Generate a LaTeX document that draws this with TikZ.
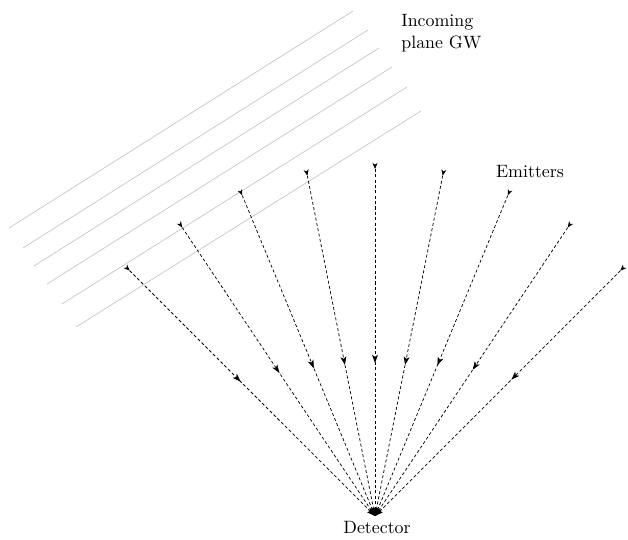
\documentclass[tikz,border=0pt]{standalone}
\usetikzlibrary{decorations.markings,arrows.meta,calc}
\tikzset{
  midtip/.tip={Stealth[length=4.6pt,width=3.3pt,inset=1.2pt]},
  endtip/.tip={Stealth[length=3.4pt,width=2.8pt,inset=1pt]}}
\begin{document}
\begin{tikzpicture}[x=0.56pt,y=0.56pt,
  wave/.style={black!22, line width=0.4pt},
  ray/.style={dash pattern=on 1.7pt off 1.3pt, line width=0.4pt},
  lbl/.style={inner sep=0pt, font=\normalsize}]
\useasboundingbox (0,0) rectangle (628,539);
% incoming plane wave fronts
\draw[wave] (9,311) -- (353,528);
\draw[wave] (23,291) -- (368,509);
\draw[wave] (34,273) -- (379,491);
\draw[wave] (47,255) -- (392,472);
\draw[wave] (62,235) -- (407,452);
\draw[wave] (76,212) -- (421,428);
% detector
\coordinate (D) at (375,23);
\node[lbl] (det) at (377,12) {Detector};
% rays
\foreach \i/\a/\p in {1/135/0.452, 2/123.75/0.504, 3/112.5/0.539, 4/101.25/0.556, 5/90/0.559, 6/78.75/0.556, 7/67.5/0.530, 8/56.25/0.493, 9/45/0.444} {
  \coordinate (e\i) at ($(D)+(\a:347)$);
  \draw[ray, postaction={decorate}, decoration={markings,
      mark=at position 0 with {\arrow{endtip}},
      mark=at position \p with {\arrow{midtip}},
      mark=at position 1 with {\arrow{midtip}}}] (e\i) -- (D);
}
% labels
\node[lbl, align=left, anchor=west] (gw) at (401,506) {Incoming\\plane GW};
\node[lbl] (em) at (530,367) {Emitters};
\end{tikzpicture}
\end{document}
